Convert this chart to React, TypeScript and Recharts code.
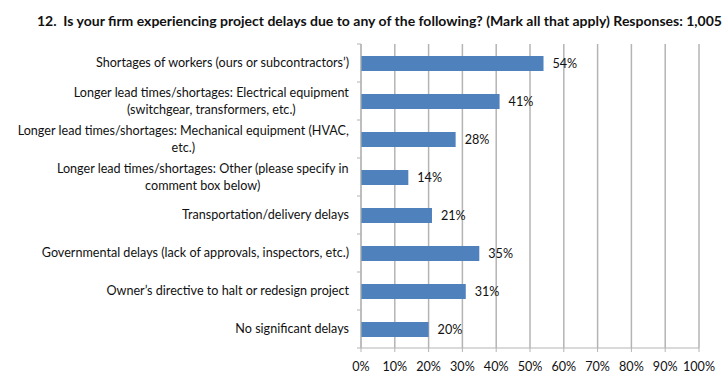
import { Bar, BarChart, CartesianGrid, LabelList, XAxis, YAxis } from 'recharts';

const categories: string[][] = [
  ['Shortages of workers (ours or subcontractors’)'],
  ['Longer lead times/shortages: Electrical equipment', '(switchgear, transformers, etc.)'],
  ['Longer lead times/shortages: Mechanical equipment (HVAC,', 'etc.)'],
  ['Longer lead times/shortages: Other (please specify in', 'comment box below)'],
  ['Transportation/delivery delays'],
  ['Governmental delays (lack of approvals, inspectors, etc.)'],
  ['Owner’s directive to halt or redesign project'],
  ['No significant delays'],
];
const percents = [54, 41, 28, 14, 21, 35, 31, 20];
const xTicks = [0, 10, 20, 30, 40, 50, 60, 70, 80, 90, 100];

const TITLE =
  '12.  Is your firm experiencing project delays due to any of the following? (Mark all that apply) Responses: 1,005';

const W = 728;
const H = 378;
const MARGIN = { top: 44, right: 29, left: 0, bottom: 0 };
const Y_AXIS_W = 361;
const X_AXIS_H = 30;
const FONT = 'Lato, "Liberation Sans", sans-serif';
const LABEL_SIZE = 12.6;
const GRID = '#b4b4b4';

const data = categories.map((lines, i) => ({ name: lines.join(' '), lines, value: percents[i] }));
const bandSize = (H - MARGIN.top - MARGIN.bottom - X_AXIS_H) / categories.length;

let ctx: CanvasRenderingContext2D | null = null;
const measure = (s: string) => {
  if (!ctx) {
    ctx = document.createElement('canvas').getContext('2d');
    if (ctx) ctx.font = `${LABEL_SIZE}px ${FONT}`;
  }
  return ctx ? ctx.measureText(s).width : s.length * 5.5;
};

const CategoryTick = (props: any) => {
  const { y, payload, index } = props;
  const item = data.find((d) => d.name === payload.value);
  const lines = item ? item.lines : [String(payload.value)];
  const right = Y_AXIS_W - 12;
  const blockW = Math.max(...lines.map(measure));
  const cx = right - blockW / 2;
  const lh = 17;
  const y0 = y - ((lines.length - 1) * lh) / 2;
  const top = y - bandSize / 2;
  return (
    <g>
      <line x1={Y_AXIS_W - 4} x2={Y_AXIS_W} y1={top} y2={top} stroke={GRID} />
      {index === categories.length - 1 && (
        <line x1={Y_AXIS_W - 4} x2={Y_AXIS_W} y1={top + bandSize} y2={top + bandSize} stroke={GRID} />
      )}
      {lines.map((l, i) => (
        <text
          key={i}
          x={lines.length > 1 ? cx : right}
          y={y0 + i * lh}
          dy='0.35em'
          textAnchor={lines.length > 1 ? 'middle' : 'end'}
          fontSize={LABEL_SIZE}
          fontFamily={FONT}
          fill='#111'
        >
          {l}
        </text>
      ))}
    </g>
  );
};

export default function App() {
  return (
    <div style={{ position: 'absolute', left: 0, top: 0, width: W, height: H, background: '#fff' }}>
      <div
        style={{
          position: 'absolute',
          left: 37,
          top: 12,
          fontFamily: FONT,
          fontWeight: 700,
          fontSize: 14,
          color: '#111',
          whiteSpace: 'pre',
        }}
      >
        {TITLE}
      </div>
      <BarChart width={W} height={H} data={data} layout='vertical' margin={MARGIN} barSize={15}>
        <CartesianGrid horizontal={false} vertical={true} stroke={GRID} strokeWidth={1.5} />
        <XAxis
          type='number'
          domain={[0, 100]}
          ticks={xTicks}
          tickFormatter={(v) => `${v}%`}
          height={X_AXIS_H}
          stroke={GRID}
          tickSize={4}
          tickMargin={10}
          tick={{ fill: '#111', fontSize: LABEL_SIZE, fontFamily: FONT }}
          interval={0}
        />
        <YAxis
          type='category'
          dataKey='name'
          width={Y_AXIS_W}
          stroke={GRID}
          tickLine={false}
          tick={<CategoryTick />}
          interval={0}
        />
        <Bar dataKey='value' fill='#4f81bd' isAnimationActive={false}>
          <LabelList
            dataKey='value'
            position='right'
            offset={9}
            formatter={(v: any) => `${v}%`}
            style={{ fill: '#111', fontSize: LABEL_SIZE, fontFamily: FONT }}
          />
        </Bar>
      </BarChart>
    </div>
  );
}
